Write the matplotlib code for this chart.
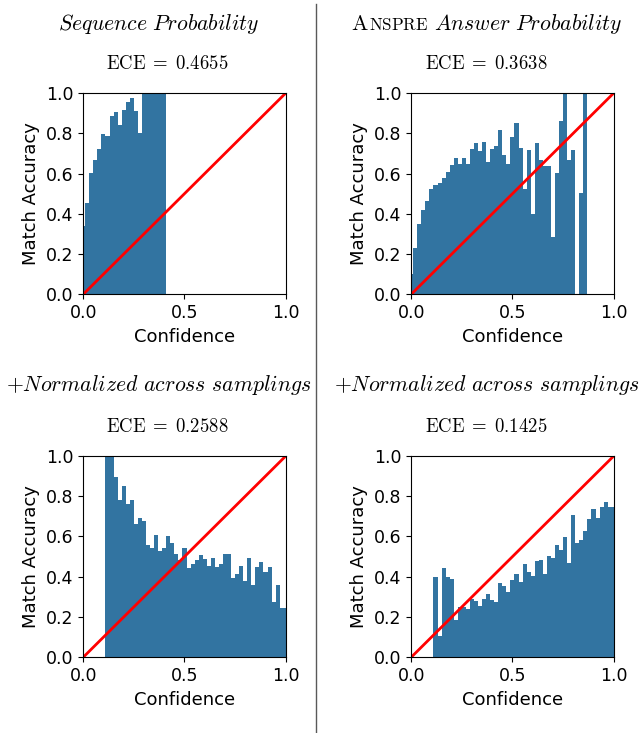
import matplotlib
matplotlib.use('Agg')
import matplotlib.pyplot as plt
from matplotlib.lines import Line2D
import numpy as np

plt.rcParams['mathtext.fontset'] = 'cm'
plt.rcParams['font.size'] = 12

# bin centres of the reliability diagrams (50 bins of width 0.02)
bin_centers = np.linspace(0, 1, 51)

# accuracy per confidence bin
seq_prob_acc = [0.341, 0.455, 0.603, 0.667, 0.722, 0.796, 0.786, 0.886, 0.906, 0.841,
                0.916, 0.955, 0.975, 0.911, 0.801, 1.0, 1.0, 1.0, 1.0, 1.0,
                1.0] + [0.0] * 30
anspre_acc = [0.103, 0.230, 0.349, 0.419, 0.464, 0.523, 0.543, 0.553, 0.578, 0.608,
              0.642, 0.677, 0.647, 0.677, 0.647, 0.722, 0.752, 0.712, 0.757, 0.657,
              0.722, 0.737, 0.816, 0.692, 0.647, 0.781, 0.851, 0.727, 0.523, 0.717,
              0.401, 0.752, 0.667, 0.637, 0.637, 0.285, 0.603, 0.861, 1.0, 0.667,
              0.717, 0.0, 0.503, 1.0] + [0.0] * 7
seq_norm_acc = [0.0] * 6 + [1.0, 1.0, 0.896, 0.781, 0.851, 0.762, 0.781, 0.662, 0.692, 0.677,
                            0.558, 0.543, 0.608, 0.528, 0.543, 0.603, 0.568, 0.513, 0.485, 0.543,
                            0.444, 0.464, 0.483, 0.508, 0.488, 0.454, 0.493, 0.449, 0.464, 0.513,
                            0.513, 0.394, 0.414, 0.454, 0.379, 0.493, 0.359, 0.449, 0.474, 0.424,
                            0.449, 0.275, 0.359, 0.245, 0.245]
anspre_norm_acc = [0.0] * 6 + [0.401, 0.108, 0.444, 0.399, 0.389, 0.185, 0.25, 0.25, 0.24, 0.29,
                               0.28, 0.255, 0.29, 0.315, 0.285, 0.275, 0.369, 0.354, 0.324, 0.384,
                               0.414, 0.374, 0.464, 0.424, 0.404, 0.478, 0.483, 0.414, 0.503, 0.493,
                               0.558, 0.533, 0.598, 0.469, 0.707, 0.568, 0.583, 0.627, 0.687, 0.737,
                               0.692, 0.747, 0.772, 0.747, 0.747]

ece_values = ['0.4655', '0.3638', '0.2588', '0.1425']
all_acc = [seq_prob_acc, anspre_acc, seq_norm_acc, anspre_norm_acc]

bar_color = '#3274a1'

fig, axes = plt.subplots(2, 2, figsize=(6.4, 7.33), dpi=100)
fig.subplots_adjust(left=0.130, right=0.959, bottom=0.1033, top=0.8731,
                    wspace=0.619, hspace=0.803)

for ax, acc in zip(axes.flat, all_acc):
    ax.bar(bin_centers, acc, width=0.02, color=bar_color, linewidth=0)
    ax.plot([0, 1], [0, 1], color='red', linewidth=2)
    ax.set_xlim(0, 1)
    ax.set_ylim(0, 1)
    ax.set_xticks([0, 0.5, 1.0])
    ax.set_yticks([0, 0.2, 0.4, 0.6, 0.8, 1.0])
    ax.tick_params(labelsize=12.5)
    ax.set_xlabel('Confidence', fontsize=13)
    ax.set_ylabel('Match Accuracy', fontsize=13)

renderer = fig.canvas.get_renderer()


def centered_pieces(xc, y, pieces):
    # lay out several text pieces on one baseline, centred at xc (figure fraction)
    texts = [fig.text(0, y, s, fontsize=fs, va='baseline', ha='left') for s, fs in pieces]
    widths = [t.get_window_extent(renderer).width / fig.bbox.width for t in texts]
    x = xc - sum(widths) / 2
    for t, w in zip(texts, widths):
        t.set_x(x)
        x += w


title_size = 15.7
ece_size = 13.5
# (x centre of title line, x centre of ECE line) per column, in pixels
col_centers = [(159, 167), (487, 486)]
# (baseline of title line, baseline of ECE line) per row, figure fraction
row_titles = [(0.9591, 0.9059), (0.4666, 0.4106)]
for i, ax in enumerate(axes.flat):
    xc1, xc2 = col_centers[i % 2]
    y1, y2 = row_titles[i // 2]
    if i == 0:
        centered_pieces(xc1 / 640, y1, [(r'$\mathit{Sequence\ Probability}$', title_size)])
    elif i == 1:
        centered_pieces(xc1 / 640, y1, [(r'$\mathrm{A}$', title_size),
                                        (r'$\mathrm{NSPRE}$', title_size * 0.78),
                                        (r'$\ \mathit{Answer\ Probability}$', title_size)])
    else:
        centered_pieces(xc1 / 640, y1, [(r'$+\mathit{Normalized\ across\ samplings}$', title_size)])
    centered_pieces(xc2 / 640, y2, [(r'$\mathrm{ECE}\;=\;%s$' % ece_values[i], ece_size)])

fig.add_artist(Line2D([316 / 640, 316 / 640], [0.0, 0.995], color='0.35', linewidth=1))

plt.savefig('out.png', dpi=100)
